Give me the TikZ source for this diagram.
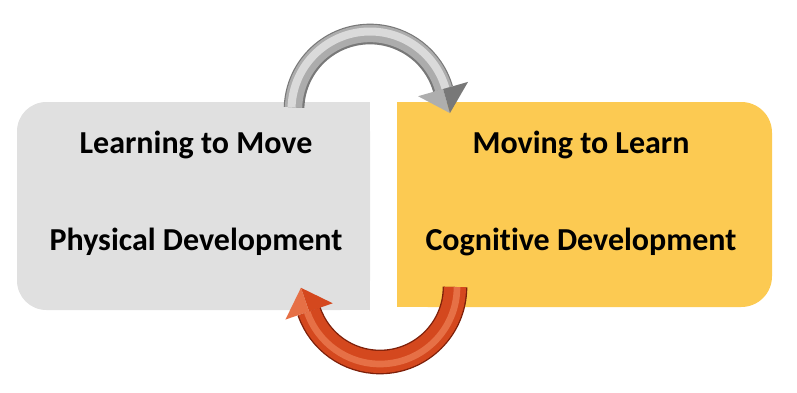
\documentclass[tikz,border=0pt]{standalone}
\usepackage{fontspec}
\setmainfont[Ligatures=NoCommon]{Carlito}
\usetikzlibrary{calc}

\definecolor{boxgray}{RGB}{224,224,224}
\definecolor{boxgold}{RGB}{252,202,82}
\definecolor{arrgrayD}{RGB}{120,120,120}
\definecolor{arrgrayM}{RGB}{172,172,172}
\definecolor{arrgrayL}{RGB}{218,218,218}
\definecolor{arrredD}{RGB}{125,32,10}
\definecolor{arrredM}{RGB}{212,72,30}
\definecolor{arrredL}{RGB}{230,112,70}

\begin{document}
\begin{tikzpicture}[x=0.75pt, y=-0.75pt,
    panel/.style={inner sep=0pt, outer sep=0pt},
    heading/.style={inner sep=0pt, anchor=base, font=\bfseries\fontsize{24}{29}\selectfont}]
    \useasboundingbox (0,0) rectangle (797,393);
    \node[panel, minimum width=264.75pt, minimum height=156pt] (lbox) at (193.5,206) {};
    \node[panel, minimum width=281.25pt, minimum height=153.75pt] (rbox) at (584.5,204.5) {};
    \fill[boxgray, rounded corners=22pt] (lbox.north west) rectangle (lbox.south east);
    \fill[boxgray] (lbox.north) rectangle (lbox.south east);
    \fill[boxgold, rounded corners=23pt] (rbox.north west) rectangle (rbox.south east);
    \fill[boxgold] (rbox.north west) rectangle (rbox.south);
    \node[heading] (lmove) at (196,153) {Learning to Move};
    \node[heading] (lphys) at (196,250) {Physical Development};
    \node[heading] (rmove) at (581,153) {Moving to Learn};
    \node[heading] (rcogn) at (581,250) {Cognitive Development};
    % curved arrows between the two boxes
    \coordinate (topc) at (370,110);
    \coordinate (botc) at (380,287);
    \foreach \w/\r/\c in {15.5/76/arrgrayD, 13/76.5/arrgrayM, 6/78.5/arrgrayL}
        \draw[line width=\w pt, \c] ($(topc)+(182:\r)$) arc[start angle=182, end angle=344, radius=\r];
    \fill[arrgrayL!80!black] ($(topc)+(344:50)$) -- ($(topc)+(344:76)$) -- ($(topc)+(344:76)+(74:25)$) -- cycle;
    \fill[arrgrayD] ($(topc)+(344:76)$) -- ($(topc)+(344:102)$) -- ($(topc)+(344:76)+(74:25)$) -- cycle;
    \foreach \w/\r/\c in {18.5/75/arrredD, 16.5/75/arrredM, 5/77/arrredL}
        \draw[line width=\w pt, \c] ($(botc)+(0:\r)$) arc[start angle=0, end angle=161, radius=\r];
    \fill[arrredM] ($(botc)+(161:50)$) -- ($(botc)+(161:75)$) -- ($(botc)+(161:75)+(251:25)$) -- cycle;
    \fill[arrredL] ($(botc)+(161:75)$) -- ($(botc)+(161:100)$) -- ($(botc)+(161:75)+(251:25)$) -- cycle;
\end{tikzpicture}
\end{document}
